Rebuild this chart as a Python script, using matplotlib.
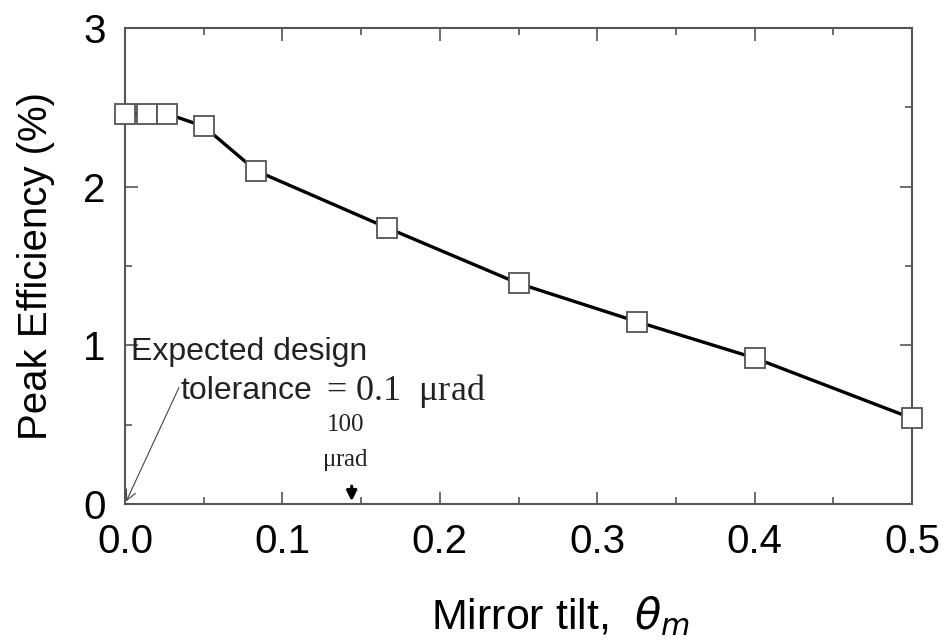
import numpy as np
import matplotlib
matplotlib.use("Agg")
import matplotlib.pyplot as plt
from matplotlib.ticker import MultipleLocator

# peak efficiency vs. mirror tilt
tilt = [0.0, 0.0138, 0.0265, 0.05, 0.0833, 0.1667, 0.25, 0.325, 0.4, 0.5]
efficiency = [2.46, 2.46, 2.46, 2.38, 2.10, 1.74, 1.39, 1.15, 0.92, 0.54]

xticks = [0.0, 0.1, 0.2, 0.3, 0.4, 0.5]
xtick_labels = ["0.0", "0.1", "0.2", "0.3", "0.4", "0.5"]
yticks = [0, 1, 2, 3]

marker_x = 0.14  # 100 urad position

plt.rcParams['font.family'] = ['Liberation Sans', 'DejaVu Sans']

fig = plt.figure(figsize=(9.45, 6.43), dpi=100)
ax = fig.add_axes([0.1323, 0.2162, 0.8328, 0.7403])

ax.plot(tilt, efficiency, color="black", lw=2.4, zorder=2, clip_on=False)
ax.plot(tilt, efficiency, ls="none", marker="s", ms=14.5, mfc="white",
        mec="#555555", mew=1.3, zorder=3, clip_on=False)

ax.set_xlim(0, 0.5)
ax.set_ylim(0, 3)
ax.set_xticks(xticks)
ax.set_xticklabels(xtick_labels)
ax.set_yticks(yticks)
ax.xaxis.set_minor_locator(MultipleLocator(0.05))
ax.yaxis.set_minor_locator(MultipleLocator(0.5))
ax.tick_params(which="both", direction="in", top=True, right=True,
               color="#555555", width=1.2)
ax.tick_params(which="major", length=9, labelsize=29)
ax.tick_params(axis="x", which="major", pad=14)
ax.tick_params(axis="y", which="major", pad=14)
ax.tick_params(which="minor", length=5)
for s in ax.spines.values():
    s.set_color("#555555")
    s.set_linewidth(1.5)

ax.set_ylabel("Peak Efficiency (%)", fontsize=29, labelpad=20)
ax.set_xlabel(r"Mirror tilt,  $\theta_m$", fontsize=31)
ax.xaxis.set_label_coords(0.553, -0.19)

# design tolerance note
ax.text(0.004, 0.96, "Expected design", fontsize=23, color="#222222",
        ha="left", va="center")
ax.text(0.035, 0.71, "tolerance", fontsize=23, color="#222222",
        ha="left", va="center")
ax.text(0.128, 0.71, r"= 0.1  $\mathregular{\mu}$rad", fontsize=26,
        family="Liberation Serif", color="#222222", ha="left", va="center")
ax.annotate("", xy=(0.0, 0.0), xytext=(0.035, 0.75),
            arrowprops=dict(arrowstyle="->", color="#444444", lw=0.8,
                            mutation_scale=18))

# 100 urad marker
ax.text(marker_x, 0.50, "100", fontsize=18, family="Liberation Serif",
        ha="center", va="center", color="#222222")
ax.text(marker_x, 0.28, r"$\mathregular{\mu}$rad", fontsize=18,
        family="Liberation Serif", ha="center", va="center", color="#222222")
ax.annotate("", xy=(marker_x + 0.004, 0.0), xytext=(marker_x + 0.004, 0.13),
            arrowprops=dict(arrowstyle="-|>", color="black", lw=2.2,
                            mutation_scale=15))

fig.savefig("out.png", dpi=100)
